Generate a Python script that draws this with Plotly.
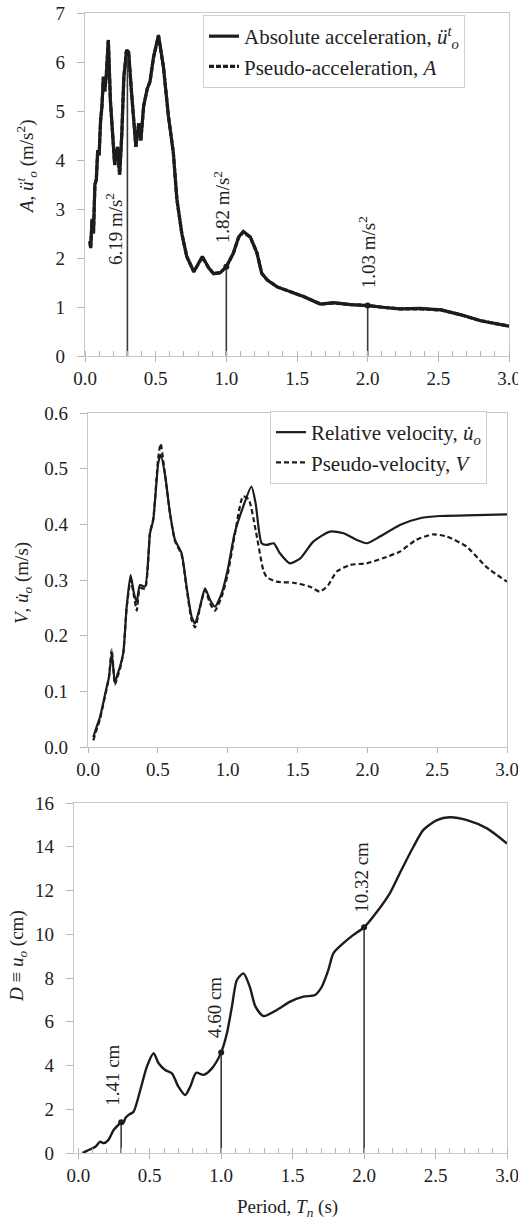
import plotly.graph_objects as go
from plotly.subplots import make_subplots

# ---------------- data ----------------
# Top panel: absolute acceleration / pseudo-acceleration (m/s^2)
T_acc = [0.035, 0.04, 0.05, 0.06, 0.07, 0.08, 0.09, 0.10, 0.11, 0.12, 0.13, 0.14, 0.15, 0.165,
         0.18, 0.195, 0.21, 0.23, 0.245, 0.26, 0.275, 0.295, 0.31, 0.33, 0.35, 0.36, 0.38, 0.395,
         0.415, 0.44, 0.46, 0.485, 0.52, 0.555, 0.59, 0.625, 0.65, 0.685, 0.72, 0.77, 0.83, 0.875,
         0.91, 0.957, 1.0, 1.05, 1.087, 1.12, 1.17, 1.217, 1.25, 1.29, 1.36, 1.45, 1.55, 1.665,
         1.76, 1.88, 2.0, 2.12, 2.23, 2.37, 2.52, 2.66, 2.8, 3.0]
A_abs = [2.35, 2.2, 2.8, 2.5, 3.5, 3.6, 4.2, 4.1, 4.8, 5.1, 5.7, 5.4, 5.7, 6.45,
         5.2, 4.4, 3.9, 4.27, 3.7, 4.5, 5.7, 6.25, 6.15, 5.35, 4.55, 4.27, 4.75, 4.4,
         5.1, 5.45, 5.6, 6.1, 6.55, 5.9, 4.9, 4.15, 3.2, 2.5, 2.03, 1.72, 2.03, 1.8,
         1.68, 1.7, 1.82, 2.1, 2.43, 2.54, 2.43, 2.1, 1.69, 1.55, 1.41, 1.31, 1.21, 1.06,
         1.09, 1.05, 1.03, 0.99, 0.96, 0.97, 0.94, 0.84, 0.72, 0.61]
A_pseudo = [2.33, 2.2, 2.78, 2.5, 3.48, 3.6, 4.18, 4.1, 4.78, 5.1, 5.68, 5.4, 5.7, 6.43,
            5.2, 4.4, 3.9, 4.25, 3.7, 4.5, 5.7, 6.24, 6.15, 5.35, 4.55, 4.27, 4.74, 4.4,
            5.1, 5.45, 5.6, 6.1, 6.53, 5.9, 4.9, 4.15, 3.2, 2.5, 2.03, 1.72, 2.02, 1.8,
            1.68, 1.7, 1.82, 2.1, 2.42, 2.53, 2.42, 2.1, 1.69, 1.55, 1.41, 1.31, 1.21, 1.06,
            1.08, 1.05, 1.03, 0.99, 0.96, 0.96, 0.94, 0.84, 0.72, 0.61]

# Middle panel: relative velocity / pseudo-velocity (m/s)
T_vel = [0.038, 0.06, 0.086, 0.11, 0.134, 0.15, 0.17, 0.193, 0.21, 0.229, 0.253, 0.277, 0.305,
         0.33, 0.349, 0.372, 0.408, 0.444, 0.467, 0.503, 0.52, 0.551, 0.587, 0.623, 0.67, 0.706,
         0.742, 0.766, 0.802, 0.838, 0.874, 0.909, 0.957, 1.0, 1.05, 1.11, 1.17, 1.2, 1.243,
         1.28, 1.33, 1.374, 1.446, 1.52, 1.613, 1.732, 1.83, 1.924, 1.995, 2.09, 2.233, 2.377,
         2.52, 2.71, 3.0]
V_rel = [0.018, 0.035, 0.054, 0.08, 0.108, 0.125, 0.168, 0.115, 0.13, 0.144, 0.17, 0.252, 0.309,
         0.275, 0.261, 0.291, 0.288, 0.384, 0.407, 0.51, 0.525, 0.49, 0.42, 0.372, 0.348, 0.288,
         0.234, 0.222, 0.252, 0.285, 0.264, 0.252, 0.276, 0.318, 0.384, 0.431, 0.468, 0.438, 0.366,
         0.363, 0.366, 0.348, 0.33, 0.339, 0.369, 0.387, 0.384, 0.372, 0.366, 0.378, 0.399, 0.411,
         0.415, 0.416, 0.418]
T_psv = [0.038, 0.06, 0.086, 0.11, 0.134, 0.15, 0.17, 0.193, 0.21, 0.229, 0.253, 0.277, 0.305,
         0.33, 0.349, 0.372, 0.408, 0.444, 0.467, 0.503, 0.52, 0.551, 0.587, 0.623, 0.67, 0.706,
         0.742, 0.766, 0.802, 0.838, 0.874, 0.909, 0.957, 1.0, 1.05, 1.11, 1.15, 1.2, 1.255,
         1.28, 1.35, 1.47, 1.59, 1.66, 1.72, 1.78, 1.875, 1.995, 2.11, 2.233, 2.35, 2.47, 2.57,
         2.71, 2.85, 3.0]
V_pseudo = [0.012, 0.03, 0.05, 0.078, 0.105, 0.125, 0.175, 0.112, 0.125, 0.14, 0.17, 0.25, 0.30,
            0.27, 0.245, 0.285, 0.285, 0.385, 0.41, 0.52, 0.545, 0.49, 0.42, 0.37, 0.345, 0.285,
            0.228, 0.215, 0.25, 0.282, 0.258, 0.245, 0.27, 0.31, 0.38, 0.45, 0.445, 0.39, 0.318,
            0.305, 0.297, 0.295, 0.288, 0.279, 0.291, 0.315, 0.327, 0.33, 0.339, 0.351, 0.372,
            0.382, 0.378, 0.36, 0.324, 0.297]

# Bottom panel: deformation (cm)
T_dis = [0.03, 0.06, 0.12, 0.154, 0.177, 0.21, 0.247, 0.282, 0.3, 0.315, 0.329, 0.352, 0.387,
         0.434, 0.48, 0.527, 0.562, 0.608, 0.655, 0.701, 0.748, 0.783, 0.825, 0.876, 0.935, 1.0,
         1.04, 1.075, 1.11, 1.156, 1.2, 1.24, 1.296, 1.39, 1.483, 1.575, 1.657, 1.704, 1.75,
         1.785, 1.855, 1.925, 2.0, 2.09, 2.18, 2.25, 2.345, 2.415, 2.51, 2.6, 2.72, 2.86, 3.0]
D_rel = [0.0, 0.1, 0.29, 0.52, 0.45, 0.59, 1.05, 1.3, 1.41, 1.36, 1.59, 1.74, 1.89,
         2.88, 3.95, 4.56, 4.1, 3.79, 3.64, 3.03, 2.65, 3.03, 3.67, 3.57, 3.87, 4.6,
         5.47, 6.69, 7.91, 8.21, 7.6, 6.69, 6.26, 6.54, 6.92, 7.15, 7.22, 7.6, 8.37,
         9.13, 9.59, 9.97, 10.32, 11.03, 11.87, 12.79, 14.0, 14.77, 15.22, 15.35, 15.22, 14.84, 14.15]

# Marked periods and values
mark_T = [0.3, 1.0, 2.0]
mark_A = [6.19, 1.82, 1.03]
mark_D = [1.41, 4.60, 10.32]
label_A = ["6.19 m/s<sup>2</sup>", "1.82 m/s<sup>2</sup>", "1.03 m/s<sup>2</sup>"]
label_D = ["1.41 cm", "4.60 cm", "10.32 cm"]

x_ticks = [0.0, 0.5, 1.0, 1.5, 2.0, 2.5, 3.0]
x_tick_text = ["0.0", "0.5", "1.0", "1.5", "2.0", "2.5", "3.0"]
A_ticks = [0, 1, 2, 3, 4, 5, 6, 7]
V_ticks = [0.0, 0.1, 0.2, 0.3, 0.4, 0.5, 0.6]
V_tick_text = ["0.0", "0.1", "0.2", "0.3", "0.4", "0.5", "0.6"]
D_ticks = [0, 2, 4, 6, 8, 10, 12, 14, 16]

# ---------------- style ----------------
W, H = 518, 1222
FONT = "Liberation Serif, Times New Roman, serif"
INK = "#1c1c1c"
TXT = "#222222"
FRAME = "#c9c9c9"
TICKC = "#b5b5b5"


def xd(a, b):
    return [a / W, b / W]


def yd(top, bottom):
    return [1 - bottom / H, 1 - top / H]


fig = make_subplots(rows=3, cols=1)

# Top panel
fig.add_trace(go.Scatter(x=T_acc, y=A_abs, mode="lines", name="Absolute acceleration, <i>ü</i><sup><i>t</i></sup><sub><i>o</i></sub>",
                         line=dict(color=INK, width=3.2), legend="legend"), row=1, col=1)
fig.add_trace(go.Scatter(x=T_acc, y=A_pseudo, mode="lines", name="Pseudo-acceleration, <i>A</i>",
                         line=dict(color=INK, width=3.2, dash="5px,2px"), legend="legend"), row=1, col=1)

# Middle panel
fig.add_trace(go.Scatter(x=T_vel, y=V_rel, mode="lines", name="Relative velocity, <i>u̇</i><sub><i>o</i></sub>",
                         line=dict(color=INK, width=2.2, shape="spline", smoothing=0.6), legend="legend2"), row=2, col=1)
fig.add_trace(go.Scatter(x=T_psv, y=V_pseudo, mode="lines", name="Pseudo-velocity, <i>V</i>",
                         line=dict(color=INK, width=2.2, dash="5px,3px", shape="spline", smoothing=0.6), legend="legend2"), row=2, col=1)

# Bottom panel
fig.add_trace(go.Scatter(x=T_dis, y=D_rel, mode="lines", showlegend=False,
                         line=dict(color=INK, width=2.4, shape="spline", smoothing=0.7)), row=3, col=1)

# Drop lines at marked periods
for vals, row in ((mark_A, 1), (mark_D, 3)):
    xs, ys = [], []
    for t, v in zip(mark_T, vals):
        xs += [t, t, None]
        ys += [0, v, None]
    fig.add_trace(go.Scatter(x=xs, y=ys, mode="lines", showlegend=False,
                             line=dict(color="#3a3a3a", width=1.6)), row=row, col=1)
    fig.add_trace(go.Scatter(x=mark_T, y=vals, mode="markers", showlegend=False,
                             marker=dict(color=INK, size=6)), row=row, col=1)

tickfont = dict(family=FONT, size=19, color=TXT)
axis_common = dict(showline=True, linecolor=FRAME, linewidth=1.2, mirror=True, showgrid=False,
                   zeroline=False, tickfont=tickfont, tickcolor=TICKC, tickwidth=1,
                   automargin=False, ticklabeloverflow="allow")

fig.update_layout(
    xaxis=dict(axis_common, domain=xd(85, 509), range=[0, 3], tickmode="array", tickvals=x_ticks,
               ticktext=x_tick_text, ticks="outside", ticklen=5,
               minor=dict(tickmode="linear", tick0=0, dtick=0.1, ticks="inside", ticklen=5, tickcolor=TICKC)),
    xaxis2=dict(axis_common, domain=xd(88, 507), range=[0, 3], tickmode="array", tickvals=x_ticks,
                ticktext=x_tick_text, ticks="outside", ticklen=5),
    xaxis3=dict(axis_common, domain=xd(74, 507), range=[-0.03, 3], tickmode="array", tickvals=x_ticks,
                ticktext=x_tick_text, ticks="outside", ticklen=5,
                minor=dict(tickmode="linear", tick0=0, dtick=0.1, ticks="inside", ticklen=5, tickcolor=TICKC)),
    yaxis=dict(axis_common, domain=yd(13, 356), range=[0, 7], tickmode="array", tickvals=A_ticks,
               ticks="outside", ticklen=7, ticklabelstandoff=8),
    yaxis2=dict(axis_common, domain=yd(413, 747), range=[0, 0.6], tickmode="array", tickvals=V_ticks,
                ticktext=V_tick_text, ticks="outside", ticklen=7, ticklabelstandoff=8),
    yaxis3=dict(axis_common, domain=yd(803, 1153), range=[0, 16], tickmode="array", tickvals=D_ticks,
                ticks="outside", ticklen=7, ticklabelstandoff=8),
)

legend_common = dict(font=dict(family=FONT, size=21, color=TXT), bgcolor="white",
                     bordercolor="#cfcfcf", borderwidth=1, xanchor="left", yanchor="top",
                     tracegroupgap=0, itemwidth=30)
fig.update_layout(
    legend=dict(legend_common, x=203 / W, y=1 - 15 / H),
    legend2=dict(legend_common, x=270 / W, y=1 - 411 / H),
)

annots = []
# value labels, rotated (bottom of text placed relative to the marked point)
A_shift = [(-14, -214), (-5, 22), (-1, 15)]
for t, v, lab, (dx, dy) in zip(mark_T, mark_A, label_A, A_shift):
    annots.append(dict(x=t, y=v, xref="x", yref="y", text=lab, textangle=-90, showarrow=False,
                       xanchor="center", yanchor="bottom", xshift=dx, yshift=dy,
                       font=dict(family=FONT, size=19, color=TXT)))
D_shift = [(-8, 14), (-6, 12), (-2, 12)]
for t, v, lab, (dx, dy) in zip(mark_T, mark_D, label_D, D_shift):
    annots.append(dict(x=t, y=v, xref="x3", yref="y3", text=lab, textangle=-90, showarrow=False,
                       xanchor="center", yanchor="bottom", xshift=dx, yshift=dy,
                       font=dict(family=FONT, size=19, color=TXT)))

# axis titles
annots += [
    dict(x=27 / W, y=1 - 167 / H, xref="paper", yref="paper", showarrow=False, textangle=-90,
         xanchor="center", yanchor="middle",
         text="<i>A</i>, <i>ü</i><sup><i>t</i></sup><sub><i>o</i></sub> (m/s<sup>2</sup>)",
         font=dict(family=FONT, size=19, color=TXT)),
    dict(x=23 / W, y=1 - 583 / H, xref="paper", yref="paper", showarrow=False, textangle=-90,
         xanchor="center", yanchor="middle",
         text="<i>V</i>, <i>u̇</i><sub><i>o</i></sub> (m/s)",
         font=dict(family=FONT, size=19, color=TXT)),
    dict(x=18 / W, y=1 - 956 / H, xref="paper", yref="paper", showarrow=False, textangle=-90,
         xanchor="center", yanchor="middle",
         text="<i>D</i> ≡ <i>u</i><sub><i>o</i></sub> (cm)",
         font=dict(family=FONT, size=19, color=TXT)),
    dict(x=287 / W, y=1 - 1208 / H, xref="paper", yref="paper", showarrow=False,
         xanchor="center", yanchor="middle",
         text="Period, <i>T</i><sub><i>n</i></sub> (s)",
         font=dict(family=FONT, size=19, color=TXT)),
]

fig.update_layout(annotations=annots, width=W, height=H, margin=dict(l=0, r=0, t=0, b=0),
                  paper_bgcolor="white", plot_bgcolor="white", showlegend=True)

fig.write_html("out.html", post_script="document.body.style.margin='0';",
               config={"displayModeBar": False})
